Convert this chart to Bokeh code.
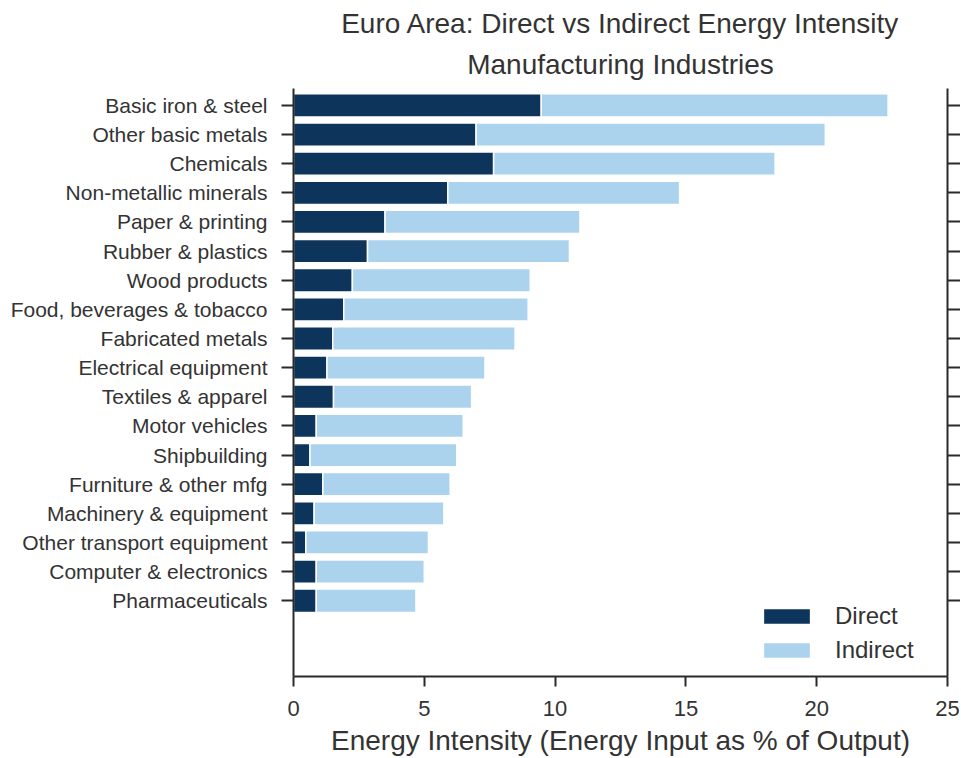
from bokeh.plotting import figure
from bokeh.models import (Range1d, FixedTicker, LinearAxis, Title, Legend,
                          LegendItem, ColumnDataSource)
from bokeh.embed import file_html
from bokeh.resources import INLINE

# ---- data ----
industries = [
    "Basic iron & steel", "Other basic metals", "Chemicals",
    "Non-metallic minerals", "Paper & printing", "Rubber & plastics",
    "Wood products", "Food, beverages & tobacco", "Fabricated metals",
    "Electrical equipment", "Textiles & apparel", "Motor vehicles",
    "Shipbuilding", "Furniture & other mfg", "Machinery & equipment",
    "Other transport equipment", "Computer & electronics", "Pharmaceuticals",
]
direct = [9.47, 6.98, 7.65, 5.90, 3.50, 2.83, 2.25, 1.92, 1.50,
          1.28, 1.53, 0.87, 0.63, 1.12, 0.79, 0.47, 0.87, 0.87]
indirect = [13.26, 13.35, 10.76, 8.86, 7.45, 7.72, 6.80, 7.05, 6.97,
            6.04, 5.28, 5.62, 5.61, 4.87, 4.96, 4.69, 4.13, 3.81]
x_ticks = [0, 5, 10, 15, 20, 25]
series_names = ["Direct", "Indirect"]
title_line1 = "Euro Area: Direct vs Indirect Energy Intensity"
title_line2 = "Manufacturing Industries"
x_label = "Energy Intensity (Energy Input as % of Output)"

DIRECT_COLOR = "#0d345b"
INDIRECT_COLOR = "#acd3ee"
TEXT = "#333333"
AXIS = "#2a2a2a"
FONT = "Liberation Sans"

n = len(industries)
ypos = [n - 1 - i for i in range(n)]
total = [d + s for d, s in zip(direct, indirect)]
src = ColumnDataSource(dict(y=ypos, zero=[0] * n, direct=direct, total=total))

p = figure(width=960, height=758, output_backend="svg", toolbar_location=None,
           x_range=Range1d(0, 25), y_range=Range1d(-2.6, n - 1 + 0.58),
           min_border_left=293, min_border_right=0, min_border_top=88,
           min_border_bottom=0)
p.outline_line_color = None
p.xgrid.visible = False
p.ygrid.visible = False
p.background_fill_color = "white"
p.border_fill_color = "white"

# titles (p.title is the outer line, the added Title sits next to the plot)
p.title.text = title_line1
p.title.align = "center"
p.title.text_font = FONT
p.title.text_font_size = "28px"
p.title.text_font_style = "normal"
p.title.text_color = TEXT
p.title.standoff = 0
p.add_layout(Title(text=title_line2, align="center", text_font=FONT,
                   text_font_size="28px", text_font_style="normal",
                   text_color=TEXT, standoff=17), "above")

r1 = p.hbar(y="y", left="zero", right="direct", height=0.8, source=src,
            fill_color=DIRECT_COLOR, line_color="white", line_width=1.5)
r2 = p.hbar(y="y", left="direct", right="total", height=0.8, source=src,
            fill_color=INDIRECT_COLOR, line_color="white", line_width=1.5)

# axes
xa = p.xaxis[0]
xa.ticker = FixedTicker(ticks=x_ticks)
xa.minor_tick_line_color = None
xa.major_tick_out = 10
xa.major_tick_in = 0
xa.axis_line_width = 2
xa.axis_line_color = AXIS
xa.major_tick_line_width = 2
xa.major_tick_line_color = AXIS
xa.major_label_text_font = FONT
xa.major_label_text_font_size = "22px"
xa.major_label_text_color = TEXT
xa.major_label_standoff = 14
xa.axis_label = x_label
xa.axis_label_text_font = FONT
xa.axis_label_text_font_size = "28px"
xa.axis_label_text_font_style = "normal"
xa.axis_label_text_color = TEXT
xa.axis_label_standoff = 6

ya = p.yaxis[0]
ya.ticker = FixedTicker(ticks=ypos)
ya.major_label_overrides = {y: name for y, name in zip(ypos, industries)}
ya.minor_tick_line_color = None
ya.major_tick_out = 12
ya.major_tick_in = 0
ya.axis_line_width = 2
ya.axis_line_color = AXIS
ya.major_tick_line_width = 2
ya.major_tick_line_color = AXIS
ya.major_label_text_font = FONT
ya.major_label_text_font_size = "21px"
ya.major_label_text_color = TEXT
ya.major_label_standoff = 14

ra = LinearAxis(ticker=FixedTicker(ticks=ypos), major_label_text_font_size="0px",
                major_label_standoff=0, minor_tick_line_color=None,
                major_tick_out=13, major_tick_in=0, axis_line_width=2,
                axis_line_color=AXIS, major_tick_line_width=2,
                major_tick_line_color=AXIS)
p.add_layout(ra, "right")

legend = Legend(items=[LegendItem(label=series_names[0], renderers=[r1]),
                       LegendItem(label=series_names[1], renderers=[r2])],
                location=(464, 12), border_line_color=None,
                background_fill_alpha=0, glyph_width=59, glyph_height=20,
                label_standoff=19, spacing=6, label_height=24,
                label_text_font=FONT, label_text_font_size="24px",
                label_text_color=TEXT, margin=0, padding=8)
p.add_layout(legend)

open("out.html", "w").write(file_html(p, INLINE))
